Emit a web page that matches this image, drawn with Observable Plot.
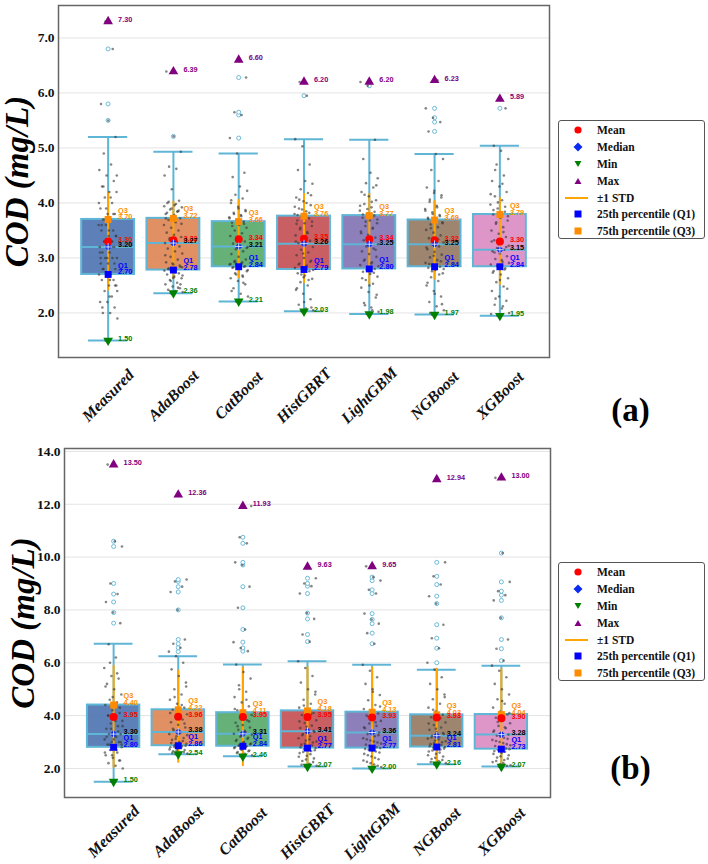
<!DOCTYPE html>
<html>
<head>
<meta charset="utf-8">
<script src="https://cdn.jsdelivr.net/npm/d3@7"></script>
<script src="https://cdn.jsdelivr.net/npm/@observablehq/plot@0.6"></script>
<style>
  body { margin: 0; background: #fff; }
  #wrap { position: relative; width: 708px; height: 864px; overflow: hidden; }
  #wrap svg.panel { position: absolute; left: 0; }
  #wrap svg.panel [aria-label="y-axis tick label"] text { font-family: "Liberation Serif", "Times New Roman", serif; font-weight: bold; font-size: 13.5px; }
  .legend { position: absolute; left: 558px; width: 147px; height: 119px; box-sizing: border-box;
            border: 1px solid #555; border-radius: 3px; background: #fff; padding-top: 1px; }
  .legend .row { height: 16.8px; display: flex; align-items: center; }
  .legend .row svg { width: 38px; height: 16px; flex: none; }
  .legend .row span { font: bold 11.5px "Liberation Serif", "Times New Roman", serif; color: #111; white-space: nowrap; }
</style>
</head>
<body>
<div id="wrap"></div>
<script>
// Model names on the x axis
const cats = ["Measured", "AdaBoost", "CatBoost", "HistGBRT", "LightGBM", "NGBoost", "XGBoost"];
const boxColors = ["#4c72b0", "#dd8452", "#55a868", "#c44e52", "#8172b3", "#937860", "#da8bc3"];

// Panel (a) summary statistics
const aMean   = [3.30, 3.32, 3.34, 3.35, 3.34, 3.32, 3.30];
const aMedian = [3.20, 3.27, 3.21, 3.26, 3.25, 3.25, 3.15];
const aQ1     = [2.70, 2.78, 2.84, 2.79, 2.80, 2.84, 2.84];
const aQ3     = [3.70, 3.72, 3.66, 3.76, 3.77, 3.69, 3.79];
const aMin    = [1.50, 2.36, 2.21, 2.03, 1.98, 1.97, 1.95];
const aMax    = [7.30, 6.39, 6.60, 6.20, 6.20, 6.23, 5.89];
const aUpperWhisker = [5.20, 4.93, 4.90, 5.16, 5.15, 4.89, 5.04];
const aStd    = [0.90, 0.71, 0.72, 0.82, 0.83, 0.72, 0.80];

// Panel (b) summary statistics
const bMean   = [3.95, 3.96, 3.95, 3.95, 3.93, 3.93, 3.90];
const bMedian = [3.30, 3.38, 3.31, 3.41, 3.36, 3.24, 3.28];
const bQ1     = [2.80, 2.86, 2.84, 2.77, 2.77, 2.81, 2.73];
const bQ3     = [4.40, 4.22, 4.11, 4.18, 4.13, 4.03, 4.04];
const bMin    = [1.50, 2.54, 2.46, 2.07, 2.00, 2.16, 2.07];
const bMax    = [13.50, 12.36, 11.93, 9.63, 9.65, 12.94, 13.00];
const bUpperWhisker = [6.72, 6.25, 5.93, 6.06, 5.92, 5.74, 5.89];
const bStd    = [1.94, 1.76, 1.88, 1.90, 1.90, 1.86, 1.87];

// Panel (a) observations per model
const measuredA = [1.5, 1.9, 2.0, 2.0, 2.1, 2.2, 2.2, 2.3, 2.4, 2.5, 2.5, 2.6, 2.6, 2.7, 2.7, 2.7, 2.8, 2.8, 2.9, 2.9, 3.0, 3.0, 3.0, 3.1, 3.1, 3.2, 3.2, 3.2, 3.3, 3.3, 3.4, 3.4, 3.5, 3.5, 3.6, 3.6, 3.7, 3.7, 3.8, 3.8, 3.9, 4.0, 4.1, 4.2, 4.2, 4.3, 4.4, 4.5, 4.6, 4.7, 4.9, 5.2, 5.5, 5.8, 6.8, 7.3,
  2.4, 2.6, 2.8, 2.9, 3.0, 3.1, 3.2, 3.3, 3.4, 3.5, 3.6, 3.8, 3.9, 4.0, 4.1, 4.3, 2.5, 2.7, 3.0, 3.3, 3.7, 4.5, 2.3, 2.1];
const adaA = [2.36, 2.38, 2.40, 2.42, 2.45, 2.48, 2.52, 2.55, 2.60, 2.63, 2.66, 2.70, 2.72, 2.75, 2.77, 2.79, 2.81, 2.84, 2.88, 2.92, 2.97, 3.02, 3.08, 3.12, 3.17, 3.21, 3.25, 3.27, 3.30, 3.33, 3.38, 3.42, 3.46, 3.50, 3.55, 3.60, 3.65, 3.69, 3.72, 3.75, 3.80, 3.84, 3.88, 3.92, 3.96, 4.00, 4.04, 4.25, 4.50, 4.62, 4.66, 4.93, 5.21, 6.39,
  2.46, 2.58, 2.68, 2.74, 2.80, 2.86, 2.90, 3.05, 3.28, 3.36, 3.62, 3.78, 3.82, 3.86, 3.90, 3.94, 3.98, 4.02, 2.52, 2.64, 3.72, 3.85, 2.78, 2.83];
const catA = [2.21, 2.30, 2.35, 2.45, 2.52, 2.58, 2.63, 2.68, 2.72, 2.76, 2.80, 2.82, 2.84, 2.86, 2.88, 2.90, 2.93, 2.97, 3.02, 3.07, 3.12, 3.16, 3.20, 3.22, 3.26, 3.30, 3.35, 3.40, 3.45, 3.50, 3.55, 3.60, 3.64, 3.66, 3.70, 3.74, 3.78, 3.82, 3.87, 3.93, 4.00, 4.08, 4.15, 4.22, 4.30, 4.47, 4.55, 4.90, 5.18, 5.60, 5.65, 6.28, 6.60,
  2.40, 2.55, 2.70, 2.78, 2.81, 2.83, 2.85, 2.87, 2.89, 2.92, 2.95, 3.18, 3.33, 3.58, 3.62, 3.68, 3.72, 3.76, 3.80, 3.85, 3.90, 4.05, 2.66, 2.91];
const histA = [2.03, 2.05, 2.08, 2.15, 2.25, 2.35, 2.42, 2.50, 2.56, 2.62, 2.68, 2.72, 2.76, 2.79, 2.82, 2.86, 2.90, 2.95, 3.00, 3.05, 3.10, 3.15, 3.20, 3.24, 3.27, 3.31, 3.36, 3.41, 3.47, 3.52, 3.58, 3.63, 3.68, 3.72, 3.76, 3.80, 3.85, 3.90, 3.96, 4.03, 4.10, 4.18, 4.25, 4.35, 4.40, 4.60, 4.70, 5.03, 5.16, 5.95, 6.20,
  2.10, 2.20, 2.45, 2.60, 2.70, 2.78, 2.84, 2.88, 2.93, 3.08, 3.30, 3.45, 3.55, 3.66, 3.74, 3.78, 3.82, 3.88, 3.93, 4.00, 4.06, 4.14, 2.65, 3.62];
const lgbmA = [1.98, 2.02, 2.10, 2.18, 2.28, 2.38, 2.46, 2.53, 2.60, 2.66, 2.71, 2.75, 2.80, 2.83, 2.87, 2.92, 2.97, 3.02, 3.07, 3.12, 3.17, 3.21, 3.25, 3.28, 3.32, 3.37, 3.42, 3.48, 3.53, 3.58, 3.63, 3.68, 3.73, 3.77, 3.81, 3.86, 3.92, 3.98, 4.05, 4.12, 4.20, 4.28, 4.36, 4.45, 4.55, 4.80, 5.15, 6.13, 6.20,
  2.05, 2.14, 2.33, 2.50, 2.63, 2.73, 2.78, 2.85, 2.90, 2.95, 3.15, 3.30, 3.45, 3.55, 3.66, 3.70, 3.75, 3.79, 3.84, 3.89, 3.95, 4.02, 4.15, 4.32];
const ngbA = [1.97, 2.05, 2.12, 2.20, 2.30, 2.40, 2.50, 2.58, 2.65, 2.72, 2.78, 2.82, 2.84, 2.87, 2.91, 2.96, 3.01, 3.06, 3.11, 3.16, 3.21, 3.25, 3.28, 3.32, 3.36, 3.41, 3.46, 3.51, 3.56, 3.61, 3.65, 3.69, 3.73, 3.78, 3.83, 3.89, 3.95, 4.02, 4.10, 4.18, 4.28, 4.40, 4.60, 4.80, 4.89, 5.30, 5.47, 5.55, 5.72, 6.23,
  2.00, 2.16, 2.35, 2.55, 2.70, 2.76, 2.80, 2.86, 2.89, 2.94, 3.04, 3.19, 3.34, 3.54, 3.63, 3.67, 3.71, 3.76, 3.80, 3.86, 3.92, 4.06, 4.14, 4.22];
const xgbA = [1.95, 2.00, 2.08, 2.15, 2.22, 2.30, 2.40, 2.48, 2.56, 2.63, 2.70, 2.76, 2.81, 2.84, 2.88, 2.93, 2.98, 3.03, 3.08, 3.12, 3.15, 3.18, 3.22, 3.27, 3.32, 3.38, 3.44, 3.50, 3.56, 3.62, 3.68, 3.73, 3.79, 3.84, 3.90, 3.97, 4.05, 4.12, 4.20, 4.30, 4.40, 4.50, 4.70, 4.80, 4.95, 5.04, 5.72, 5.89,
  1.98, 2.12, 2.26, 2.44, 2.60, 2.73, 2.79, 2.86, 2.91, 2.96, 3.10, 3.20, 3.25, 3.30, 3.47, 3.65, 3.76, 3.82, 3.87, 3.93, 4.01, 4.16, 4.35, 4.60];

// Panel (b) observations per model
const measuredB = [1.5, 2.0, 2.1, 2.2, 2.3, 2.4, 2.5, 2.6, 2.7, 2.8, 2.8, 2.9, 3.0, 3.0, 3.1, 3.2, 3.3, 3.3, 3.4, 3.5, 3.6, 3.7, 3.8, 3.9, 4.0, 4.1, 4.2, 4.4, 4.5, 4.6, 4.8, 5.0, 5.2, 5.4, 5.5, 5.8, 6.2, 6.7, 7.5, 7.9, 8.3, 8.6, 9.0, 10.4, 10.6, 13.5,
  2.3, 2.5, 2.6, 2.7, 2.9, 3.0, 3.1, 3.2, 3.4, 3.5, 3.6, 3.8, 4.0, 4.3, 4.7, 5.1, 5.6, 6.0, 2.9, 3.2];
const adaB = [2.54, 2.56, 2.60, 2.65, 2.70, 2.75, 2.80, 2.84, 2.88, 2.93, 3.00, 3.08, 3.15, 3.22, 3.30, 3.38, 3.45, 3.55, 3.65, 3.75, 3.85, 3.95, 4.05, 4.15, 4.22, 4.30, 4.45, 4.60, 4.80, 5.00, 5.25, 5.50, 5.75, 6.00, 6.25, 6.42, 6.57, 6.72, 6.88, 8.00, 8.68, 8.88, 9.08, 9.15, 12.36,
  2.58, 2.62, 2.68, 2.72, 2.78, 2.82, 2.86, 2.90, 2.96, 3.04, 3.12, 3.26, 3.34, 3.50, 3.70, 3.90, 4.10, 4.40, 4.70, 5.10];
const catB = [2.46, 2.50, 2.55, 2.62, 2.68, 2.74, 2.80, 2.84, 2.88, 2.94, 3.00, 3.08, 3.16, 3.24, 3.31, 3.38, 3.46, 3.55, 3.64, 3.73, 3.82, 3.92, 4.02, 4.11, 4.20, 4.35, 4.50, 4.70, 4.90, 5.15, 5.40, 5.65, 5.93, 6.44, 6.56, 6.78, 7.26, 8.08, 8.88, 9.70, 9.80, 10.52, 10.75, 11.93,
  2.48, 2.58, 2.65, 2.71, 2.77, 2.82, 2.86, 2.91, 2.97, 3.04, 3.12, 3.20, 3.28, 3.42, 3.60, 3.78, 3.98, 4.25, 4.60, 5.00];
const histB = [2.07, 2.10, 2.18, 2.28, 2.38, 2.48, 2.58, 2.66, 2.72, 2.77, 2.83, 2.90, 2.98, 3.06, 3.14, 3.22, 3.30, 3.38, 3.45, 3.53, 3.62, 3.72, 3.82, 3.92, 4.02, 4.10, 4.18, 4.30, 4.45, 4.60, 4.80, 5.00, 5.25, 5.50, 5.80, 6.06, 6.80, 7.07, 7.66, 7.88, 8.62, 8.90, 9.00, 9.20, 9.63,
  2.14, 2.24, 2.34, 2.44, 2.54, 2.62, 2.69, 2.75, 2.80, 2.87, 2.94, 3.02, 3.10, 3.26, 3.42, 3.58, 3.78, 4.06, 4.38, 4.90];
const lgbmB = [2.00, 2.05, 2.15, 2.25, 2.35, 2.45, 2.55, 2.64, 2.71, 2.77, 2.83, 2.90, 2.98, 3.06, 3.14, 3.22, 3.30, 3.36, 3.44, 3.52, 3.61, 3.70, 3.80, 3.90, 4.00, 4.08, 4.13, 4.25, 4.40, 4.58, 4.78, 5.00, 5.20, 5.45, 5.70, 5.92, 6.72, 7.12, 7.48, 7.64, 7.86, 8.62, 8.76, 9.11, 9.24, 9.65,
  2.10, 2.20, 2.30, 2.40, 2.50, 2.60, 2.68, 2.74, 2.80, 2.86, 2.94, 3.02, 3.10, 3.26, 3.40, 3.56, 3.75, 3.95, 4.34, 4.90];
const ngbB = [2.16, 2.20, 2.28, 2.36, 2.45, 2.55, 2.64, 2.72, 2.78, 2.81, 2.86, 2.92, 2.99, 3.06, 3.13, 3.20, 3.24, 3.30, 3.38, 3.46, 3.55, 3.64, 3.74, 3.84, 3.94, 4.03, 4.15, 4.30, 4.45, 4.62, 4.80, 5.00, 5.20, 5.45, 5.74, 6.00, 6.55, 6.93, 7.44, 8.24, 8.52, 8.96, 9.27, 9.80, 12.94,
  2.24, 2.32, 2.40, 2.50, 2.60, 2.68, 2.75, 2.79, 2.84, 2.89, 2.96, 3.03, 3.10, 3.17, 3.34, 3.50, 3.70, 3.90, 4.22, 4.70];
const xgbB = [2.07, 2.12, 2.20, 2.28, 2.37, 2.46, 2.55, 2.63, 2.70, 2.73, 2.78, 2.85, 2.92, 3.00, 3.08, 3.16, 3.24, 3.28, 3.35, 3.43, 3.52, 3.61, 3.71, 3.81, 3.92, 4.04, 4.15, 4.30, 4.45, 4.62, 4.80, 5.00, 5.20, 5.45, 5.70, 5.89, 6.08, 6.53, 6.88, 7.70, 8.36, 8.56, 8.71, 9.06, 10.15, 13.00,
  2.10, 2.16, 2.24, 2.32, 2.41, 2.50, 2.59, 2.66, 2.75, 2.81, 2.88, 2.96, 3.04, 3.12, 3.20, 3.39, 3.56, 3.76, 4.10, 4.55];

// Axis ticks
const aTicks = [2, 3, 4, 5, 6, 7];
const bTicks = [2, 4, 6, 8, 10, 12, 14];

const WHISKER = "#5fb5d6";
const SERIF = "'Liberation Serif', 'Times New Roman', serif";
const SANS = "'Liberation Sans', Arial, sans-serif";

function panel(o) {
  const s = o.stats;
  const rows = cats.map((c, i) => ({
    i, mean: s.mean[i], median: s.median[i], q1: s.q1[i], q3: s.q3[i],
    min: s.min[i], max: s.max[i], hi: s.hi[i], std: s.std[i]
  }));
  const obs = [];
  o.points.forEach((arr, i) => arr.forEach((v, k) => obs.push({i, v, k})));
  // spread points sideways around each category centre
  const jitter = k => (((k * 0.6180339887 + 0.37) % 1) - 0.5) * 0.29;
  const fliers = obs.filter(d => d.v > rows[d.i].hi);
  const f2 = d3.format(".2f");
  const lbl = {fontFamily: SANS, fontWeight: "bold", fontSize: 7.3, textAnchor: "start", dx: 10};

  return Plot.plot({
    width: 708, height: o.height,
    marginLeft: o.ml, marginRight: o.mr, marginTop: o.mt, marginBottom: o.mb,
    style: {fontFamily: SERIF, fontWeight: "bold"},
    x: {domain: [-0.76, 6.76], axis: null},
    y: {domain: o.yDomain, axis: null},
    color: {type: "identity"},
    marks: [
      Plot.gridY(o.ticks, {stroke: "#e3e3e3", strokeOpacity: 1, strokeWidth: 1}),
      Plot.axisY(o.ticks, {tickSize: 0, tickPadding: 4, tickFormat: d3.format(".1f"),
        fontSize: 13.5, fontWeight: "bold", fontFamily: SERIF, fill: "#111", label: null}),
      // whiskers and caps
      Plot.ruleX(rows, {x: "i", y1: "q3", y2: "hi", stroke: WHISKER, strokeWidth: 2}),
      Plot.ruleX(rows, {x: "i", y1: "min", y2: "q1", stroke: WHISKER, strokeWidth: 2}),
      Plot.ruleY(rows, {y: "hi", x1: d => d.i - 0.3, x2: d => d.i + 0.3, stroke: WHISKER, strokeWidth: 2}),
      Plot.ruleY(rows, {y: "min", x1: d => d.i - 0.3, x2: d => d.i + 0.3, stroke: WHISKER, strokeWidth: 2}),
      // boxes
      Plot.rect(rows, {x1: d => d.i - 0.405, x2: d => d.i + 0.405, y1: "q1", y2: "q3",
        fill: d => boxColors[d.i], fillOpacity: 0.9, stroke: WHISKER, strokeWidth: 2}),
      Plot.ruleY(rows, {y: "median", x1: d => d.i - 0.405, x2: d => d.i + 0.405, stroke: WHISKER, strokeWidth: 2}),
      // outliers
      Plot.dot(fliers, {x: "i", y: "v", r: 2, stroke: "#6cbad8", strokeWidth: 1, fill: "white"}),
      // ±1 standard deviation
      Plot.ruleX(rows, {x: "i", y1: d => d.mean - d.std, y2: d => d.mean + d.std, stroke: "#ffa500", strokeWidth: 2}),
      // individual observations
      Plot.dot(obs, {x: d => d.i + jitter(d.k), y: "v", r: 1.3, fill: "#333", fillOpacity: 0.6}),
      // statistic markers
      Plot.dot(rows, {x: "i", y: "q3", symbol: "square", r: 3.9, fill: "#ff8c00"}),
      Plot.dot(rows, {x: "i", y: "q1", symbol: "square", r: 3.9, fill: "#0000ff"}),
      Plot.dot(rows, {x: "i", y: "mean", r: 4, fill: "#ff0000"}),
      Plot.dot(rows, {x: "i", y: "median", symbol: "diamond2", r: 3.4, fill: "#0a2cf0", stroke: "none"}),
      Plot.dot(rows, {x: "i", y: "median", symbol: "plus", r: 2.6, stroke: "white", strokeWidth: 0.8}),
      Plot.dot(rows, {x: "i", y: "min", symbol: "triangle", rotate: 180, r: 3.6, fill: "#008000"}),
      Plot.dot(rows, {x: "i", y: "max", symbol: "triangle", r: 3.6, fill: "#800080"}),
      // value labels
      Plot.text(rows, {x: "i", y: "q3", text: d => "Q3\n" + f2(d.q3), lineAnchor: "bottom", dy: 0, lineHeight: 0.95, fill: "#ff8c00", ...lbl}),
      Plot.text(rows, {x: "i", y: "mean", text: d => f2(d.mean), lineAnchor: "middle", dy: -2, fill: "#ff0000", ...lbl}),
      Plot.text(rows, {x: "i", y: "median", text: d => f2(d.median), lineAnchor: "middle", dy: -2, fill: "#000", ...lbl}),
      Plot.text(rows, {x: "i", y: "q1", text: d => "Q1\n" + f2(d.q1), lineAnchor: "bottom", dy: 0, lineHeight: 0.95, fill: "#0000ff", ...lbl}),
      Plot.text(rows, {x: "i", y: "min", text: d => f2(d.min), lineAnchor: "middle", dy: -2, fill: "#008000", ...lbl}),
      Plot.text(rows, {x: "i", y: "max", text: d => f2(d.max), lineAnchor: "middle", dy: -2, fill: "#800080", ...lbl}),
      // category labels
      Plot.text(cats, {x: (d, i) => i, frameAnchor: "bottom", dy: o.catDy, rotate: -45, textAnchor: "middle",
        lineAnchor: "middle", fontSize: 16, fontWeight: "bold", fontStyle: "italic", fontFamily: SERIF, fill: "#111"}),
      // axis title
      Plot.text(["COD (mg/L)"], {frameAnchor: "left", dx: -41, rotate: -90, textAnchor: "middle",
        lineAnchor: "middle", fontSize: 33, fontWeight: "bold", fontStyle: "italic", fontFamily: SERIF, fill: "#000"}),
      // panel tag
      Plot.text([o.tag], {frameAnchor: o.tagAnchor, dx: o.tagDx, dy: o.tagDy, textAnchor: "middle",
        lineAnchor: "middle", fontSize: 33, fontWeight: "bold", fontFamily: SERIF, fill: "#000"}),
      Plot.frame({stroke: "#666", strokeWidth: 1.5})
    ]
  });
}

const wrap = document.getElementById("wrap");

const svgA = panel({
  stats: {mean: aMean, median: aMedian, q1: aQ1, q3: aQ3, min: aMin, max: aMax, hi: aUpperWhisker, std: aStd},
  points: [measuredA, adaA, catA, histA, lgbmA, ngbA, xgbA],
  yDomain: [1.19, 7.59], ticks: aTicks,
  height: 440, ml: 58, mr: 159, mt: 5, mb: 83, catDy: 38,
  tag: "(a)", tagAnchor: "bottom-right", tagDx: 81, tagDy: 53
});
svgA.classList.add("panel");
svgA.style.top = "0px";
wrap.appendChild(svgA);

const svgB = panel({
  stats: {mean: bMean, median: bMedian, q1: bQ1, q3: bQ3, min: bMin, max: bMax, hi: bUpperWhisker, std: bStd},
  points: [measuredB, adaB, catB, histB, lgbmB, ngbB, xgbB],
  yDomain: [0.90, 14.11], ticks: bTicks,
  height: 424, ml: 64, mr: 158, mt: 8, mb: 67, catDy: 34,
  tag: "(b)", tagAnchor: "bottom-right", tagDx: 80, tagDy: -29
});
svgB.classList.add("panel");
svgB.style.top = "440px";
wrap.appendChild(svgB);

// Legend boxes
const legendItems = [
  {label: "Mean", icon: '<circle cx="19" cy="8" r="3.6" fill="#ff0000"/>'},
  {label: "Median", icon: '<polygon points="19,3.5 23.5,8 19,12.5 14.5,8" fill="#0a2cf0"/>'},
  {label: "Min", icon: '<polygon points="15.5,5 22.5,5 19,11" fill="#008000"/>'},
  {label: "Max", icon: '<polygon points="15.5,11 22.5,11 19,5" fill="#800080"/>'},
  {label: "±1 STD", icon: '<line x1="6" x2="29" y1="8" y2="8" stroke="#ffa500" stroke-width="2"/>'},
  {label: "25th percentile (Q1)", icon: '<rect x="15.5" y="4.5" width="7" height="7" fill="#0000ff"/>'},
  {label: "75th percentile (Q3)", icon: '<rect x="15.5" y="4.5" width="7" height="7" fill="#ff8c00"/>'}
];
function legend(top) {
  const div = document.createElement("div");
  div.className = "legend";
  div.style.top = top + "px";
  div.innerHTML = legendItems.map(d =>
    `<div class="row"><svg viewBox="0 0 38 16">${d.icon}</svg><span>${d.label}</span></div>`).join("");
  wrap.appendChild(div);
}
legend(120);
legend(562);
</script>
</body>
</html>
